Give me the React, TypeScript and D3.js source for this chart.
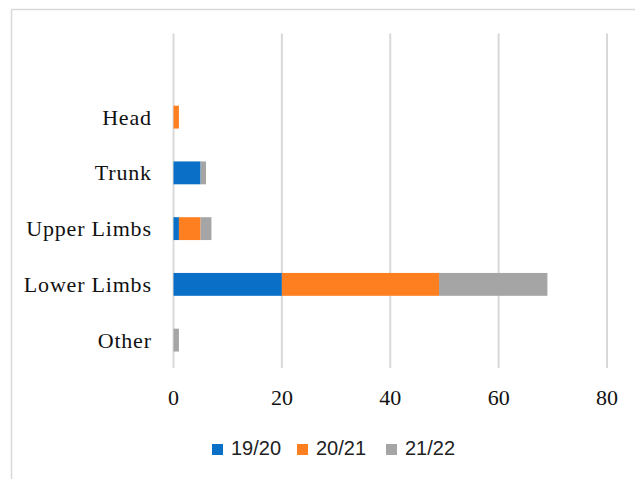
import React from "react";
import * as d3 from "d3";

const categories = ["", "Head", "Trunk", "Upper Limbs", "Lower Limbs", "Other"];
const seriesNames = ["19/20", "20/21", "21/22"];
const values1920 = [0, 0, 5, 1, 20, 0];
const values2021 = [0, 1, 0, 4, 29, 0];
const values2122 = [0, 0, 1, 2, 20, 1];
const xTicks = [0, 20, 40, 60, 80];
const colors = ["#0a6fc6", "#fe7f20", "#a5a5a5"];

const W = 635;
const H = 479;

export default function App() {
  const x = d3.scaleLinear().domain([0, 80]).range([173.5, 607]);
  const y = d3.scaleBand().domain(categories).range([33.5, 368]).paddingInner(0.59).paddingOuter(0.295);

  const rows = categories.map((c, i) => ({
    cat: c,
    "19/20": values1920[i],
    "20/21": values2021[i],
    "21/22": values2122[i],
  }));
  const stacked = d3.stack<any>().keys(seriesNames)(rows);

  const legendX = [212, 297, 386];

  return (
    <svg width={W} height={H} style={{ position: "absolute", left: 0, top: 0, background: "#fff" }}>
      <rect x={0} y={0} width={W} height={H} fill="#fff" />
      <line x1={11.5} x2={11.5} y1={9.5} y2={H} stroke="#d9d9d9" strokeWidth={1.5} />
      <line x1={11.5} x2={W} y1={9.5} y2={9.5} stroke="#d9d9d9" strokeWidth={1.5} />
      {xTicks.map((t) => (
        <line key={t} x1={x(t)} x2={x(t)} y1={33.5} y2={368} stroke="#d9d9d9" strokeWidth={2} />
      ))}
      {stacked.map((s, si) => (
        <g key={s.key} fill={colors[si]}>
          {s.map((d, i) =>
            d[1] - d[0] > 0 ? (
              <rect
                key={i}
                x={x(d[0])}
                y={y(categories[i])!}
                width={x(d[1]) - x(d[0])}
                height={y.bandwidth()}
              />
            ) : null
          )}
        </g>
      ))}
      {categories.map((c) =>
        c ? (
          <text
            key={c}
            x={151.8}
            y={y(c)! + y.bandwidth() / 2 + 7.5}
            textAnchor="end"
            fontFamily="'Liberation Serif', serif"
            fontSize={22}
            letterSpacing={0.8}
            fill="#111"
          >
            {c}
          </text>
        ) : null
      )}
      {xTicks.map((t) => (
        <text
          key={t}
          x={x(t)}
          y={405}
          textAnchor="middle"
          fontFamily="'Liberation Serif', serif"
          fontSize={22}
          fill="#111"
        >
          {t}
        </text>
      ))}
      {seriesNames.map((n, i) => (
        <g key={n}>
          <rect x={legendX[i]} y={444} width={11} height={11} fill={colors[i]} />
          <text
            x={legendX[i] + 19}
            y={455}
            fontFamily="'Liberation Sans', sans-serif"
            fontSize={20}
            fill="#222"
          >
            {n}
          </text>
        </g>
      ))}
    </svg>
  );
}
